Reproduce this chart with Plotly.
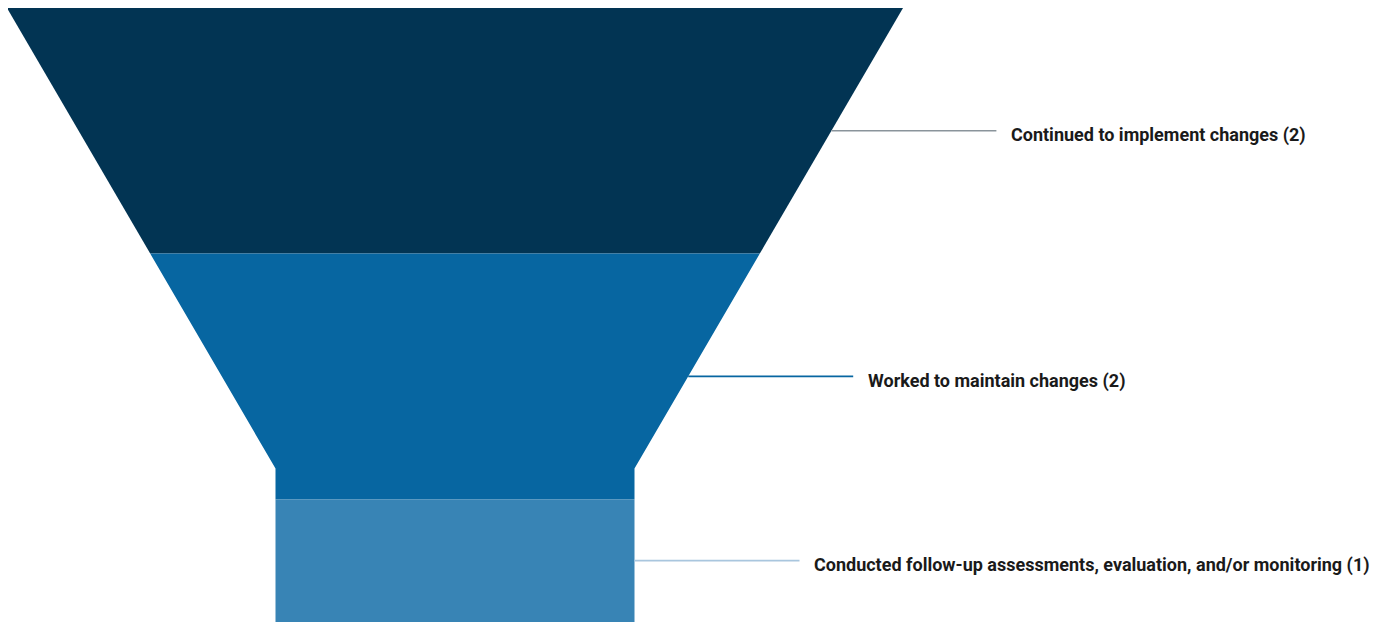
import plotly.graph_objects as go

categories = [
    "Continued to implement changes",
    "Worked to maintain changes",
    "Conducted follow-up assessments, evaluation, and/or monitoring",
]
values = [2, 2, 1]
colors = ["#023453", "#0766a1", "#3884b5"]
connector_colors = ["#8a949b", "#0766a1", "#a9c6de"]

# the page body adds an 8px offset, so the figure is drawn 8px smaller
W, H = 1376, 616
# funnel geometry (figure pixels)
cx = 447.0
top_y = 0.0
bot_y = 614.0
top_w = 896.0
neck_w = 359.0
neck_h_frac = 0.25
neck_y = bot_y - (bot_y - top_y) * neck_h_frac


def half_width(y):
    if y >= neck_y:
        return neck_w / 2
    t = (y - top_y) / (neck_y - top_y)
    return top_w / 2 - t * (top_w - neck_w) / 2


fig = go.Figure()
total = sum(values)
y = top_y
for cat, v, col, ccol in zip(categories, values, colors, connector_colors):
    y0 = y
    y1 = y0 + (bot_y - top_y) * v / total
    ys = [y0]
    if y0 < neck_y < y1:
        ys.append(neck_y)
    ys.append(y1)
    xs_right = [cx + half_width(yy) for yy in ys]
    xs_left = [cx - half_width(yy) for yy in reversed(ys)]
    px = xs_right + xs_left + [xs_right[0]]
    py = ys + list(reversed(ys)) + [ys[0]]
    fig.add_trace(go.Scatter(
        x=px, y=py, fill="toself", fillcolor=col, mode="lines",
        line=dict(width=0, color=col), hoverinfo="skip", showlegend=False,
    ))
    ym = (y0 + y1) / 2
    xe = cx + half_width(ym)
    fig.add_trace(go.Scatter(
        x=[xe, xe + 165], y=[ym, ym], mode="lines",
        line=dict(width=1.6, color=ccol), hoverinfo="skip", showlegend=False,
    ))
    fig.add_annotation(
        x=xe + 177.5, y=ym + 4.5, xref="x", yref="y", text=f"{cat} ({v})",
        showarrow=False, xanchor="left", yanchor="middle",
        font=dict(family="Roboto", size=18, color="#1a1a1a", weight="bold"),
    )
    y = y1

fig.update_layout(
    width=W, height=H,
    margin=dict(l=0, r=0, t=0, b=0),
    paper_bgcolor="white", plot_bgcolor="white",
    xaxis=dict(range=[0, W], visible=False, fixedrange=True),
    yaxis=dict(range=[H, 0], visible=False, fixedrange=True),
    showlegend=False,
)
fig.write_html("out.html")
